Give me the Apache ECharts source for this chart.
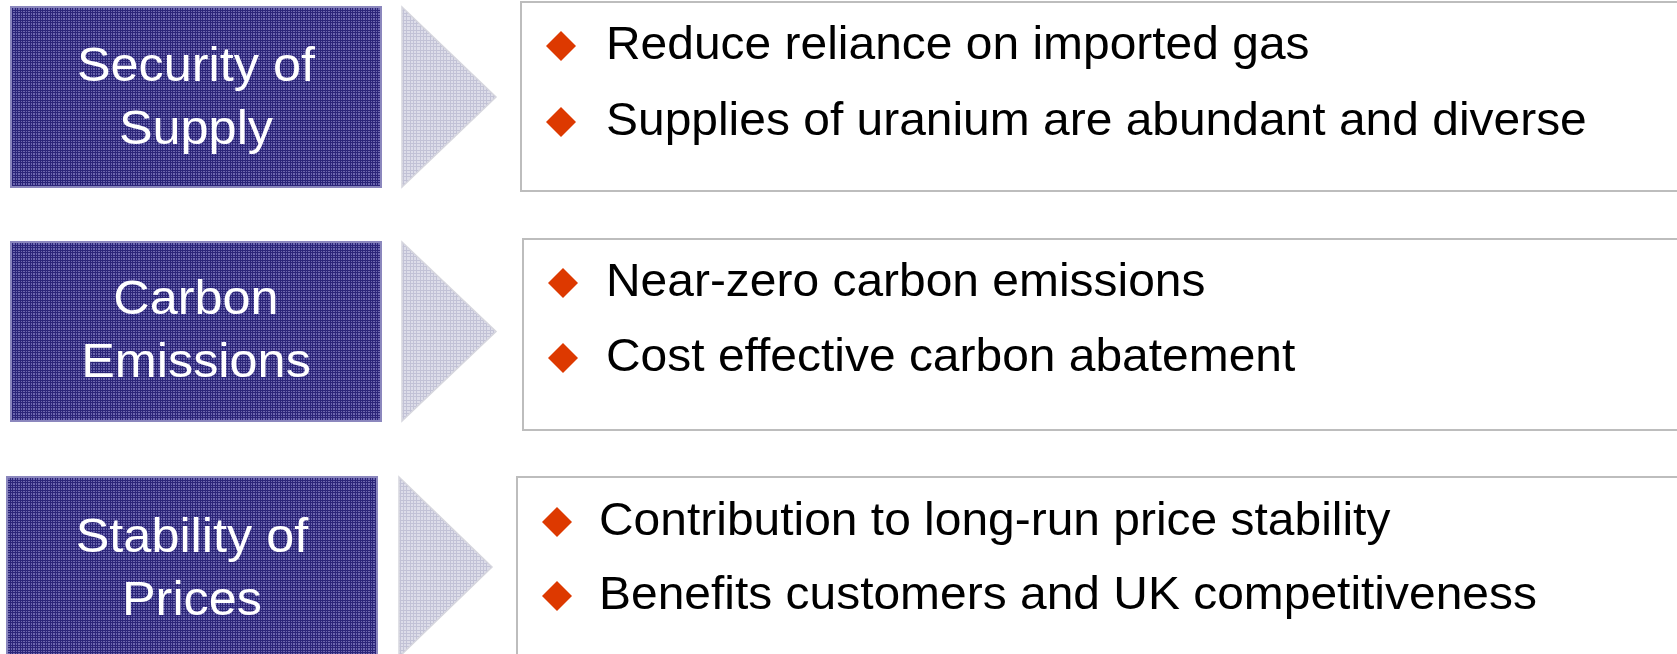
<!DOCTYPE html>
<html>
<head>
<meta charset="utf-8">
<script src="https://cdn.jsdelivr.net/npm/echarts@6/dist/echarts.min.js"></script>
<style>
  html, body { margin: 0; padding: 0; background: #fff; }
  #main { width: 1677px; height: 654px; }
</style>
</head>
<body>
<div id="main"></div>
<script>
// 三个主题及其要点
var themes = ['Security of\nSupply', 'Carbon\nEmissions', 'Stability of\nPrices'];
var supplyPoints = ['Reduce reliance on imported gas', 'Supplies of uranium are abundant and diverse'];
var carbonPoints = ['Near-zero carbon emissions', 'Cost effective carbon abatement'];
var pricePoints = ['Contribution to long-run price stability', 'Benefits customers and UK competitiveness'];
var points = [supplyPoints, carbonPoints, pricePoints];

// 每行的位置（像素）
var layout = [
  { boxX: 11, boxY: 7, boxH: 180, labelY: 99, arrowX: 402, arrowW: 94, panelX: 521, panelY: 2, panelH: 189, bulletX: 561, bulletY: [46, 122], textX: 606 },
  { boxX: 11, boxY: 242, boxH: 179, labelY: 332, arrowX: 402, arrowW: 94, panelX: 523, panelY: 239, panelH: 191, bulletX: 563, bulletY: [283, 358], textX: 606 },
  { boxX: 7, boxY: 477, boxH: 180, labelY: 570, arrowX: 399, arrowW: 93, panelX: 517, panelY: 477, panelH: 230, bulletX: 557, bulletY: [522, 596], textX: 599 }
];

// 网格纹理
function makePattern(base, line, marks) {
  var c = document.createElement('canvas');
  c.width = 10; c.height = 10;
  var ctx = c.getContext('2d');
  ctx.fillStyle = base;
  ctx.fillRect(0, 0, 10, 10);
  ctx.fillStyle = line;
  marks.forEach(function (m) {
    ctx.fillRect(m, 0, 1, 10);
    ctx.fillRect(0, m, 10, 1);
  });
  return { image: c, repeat: 'repeat' };
}
var purpleFill = makePattern('#6c67ae', '#2b2578', [0, 2, 5, 7]);
var greyFill = makePattern('#dddde9', '#c2c2d6', [0, 3, 6]);

var elements = [];
layout.forEach(function (L, i) {
  // 紫色标题框
  elements.push({
    type: 'rect',
    shape: { x: L.boxX, y: L.boxY, width: 370, height: L.boxH },
    style: { fill: purpleFill, stroke: '#8b87bd', lineWidth: 2 }
  });
  elements.push({
    type: 'text',
    x: L.boxX + 185, y: L.labelY,
    scaleX: 1.05,
    style: {
      text: themes[i],
      fill: '#ffffff',
      font: '48px "Liberation Sans", Arial, sans-serif',
      lineHeight: 63,
      align: 'center',
      verticalAlign: 'middle'
    }
  });
  // 箭头
  elements.push({
    type: 'polygon',
    shape: { points: [[L.arrowX, L.boxY], [L.arrowX + L.arrowW, L.boxY + L.boxH / 2], [L.arrowX, L.boxY + L.boxH]] },
    style: { fill: greyFill, stroke: '#d6d6de', lineWidth: 1.5 }
  });
  // 右侧文本框
  elements.push({
    type: 'rect',
    shape: { x: L.panelX, y: L.panelY, width: 1300, height: L.panelH },
    style: { fill: '#ffffff', stroke: '#bdbdbd', lineWidth: 2 }
  });
  points[i].forEach(function (p, j) {
    var cy = L.bulletY[j];
    elements.push({
      type: 'polygon',
      shape: { points: [[L.bulletX - 15, cy], [L.bulletX, cy - 15], [L.bulletX + 15, cy], [L.bulletX, cy + 15]] },
      style: { fill: '#dd3900' }
    });
    elements.push({
      type: 'text',
      x: L.textX, y: cy,
      scaleX: 1.02,
      style: {
        text: p,
        fill: '#000000',
        font: '47px "Liberation Sans", Arial, sans-serif',
        align: 'left',
        verticalAlign: 'middle'
      }
    });
  });
});

var myChart = echarts.init(document.getElementById('main'));
myChart.setOption({
  backgroundColor: '#ffffff',
  animation: false,
  graphic: { elements: elements }
});
</script>
</body>
</html>
